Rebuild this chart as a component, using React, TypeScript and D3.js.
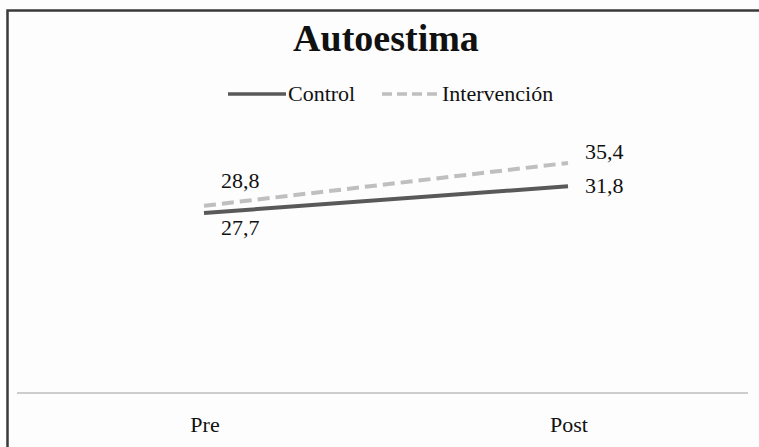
import React, { useEffect, useRef } from 'react';
import * as d3 from 'd3';

const categories = ['Pre', 'Post'];
const seriesNames = ['Control', 'Intervención'];
const controlValues = [27.7, 31.8];
const intervencionValues = [28.8, 35.4];
const valueLabels = [
  ['27,7', '31,8'],
  ['28,8', '35,4'],
];

const WIDTH = 759;
const HEIGHT = 447;

function App() {
  const svgRef = useRef<SVGSVGElement>(null);

  useEffect(() => {
    if (!svgRef.current) return;
    const svg = d3.select(svgRef.current);
    svg.selectAll('*').remove();

    const font = '"Liberation Serif", "Times New Roman", serif';
    const axisY = 393;

    // Frame
    svg.append('rect')
      .attr('width', WIDTH).attr('height', HEIGHT).attr('fill', '#fdfdfd');
    svg.append('rect')
      .attr('x', 7.5).attr('y', 10.5)
      .attr('width', WIDTH + 20).attr('height', HEIGHT + 20)
      .attr('fill', 'none')
      .attr('stroke', '#3a3a3a')
      .attr('stroke-width', 2.5);

    // Title
    svg.append('text')
      .attr('x', 386).attr('y', 51)
      .attr('text-anchor', 'middle')
      .style('font-family', font)
      .style('font-size', '38px')
      .style('font-weight', 'bold')
      .style('fill', '#111')
      .text('Autoestima');

    // Scales
    const xScale = d3.scalePoint<string>()
      .domain(categories)
      .range([22, 750])
      .padding(0.5);

    const yScale = d3.scaleLinear()
      .domain([0, 50])
      .range([axisY, 68]);

    const series = [
      { name: seriesNames[0], values: controlValues, color: '#595959', dash: null, labels: valueLabels[0] },
      { name: seriesNames[1], values: intervencionValues, color: '#bfbfbf', dash: '12,6', labels: valueLabels[1] },
    ];

    // Legend
    const legend = svg.append('g');
    const legendItems = [
      { x1: 228, x2: 286, textX: 288 },
      { x1: 382, x2: 440, textX: 442 },
    ];
    series.forEach((s, i) => {
      const it = legendItems[i];
      legend.append('line')
        .attr('x1', it.x1).attr('x2', it.x2)
        .attr('y1', 94).attr('y2', 94)
        .attr('stroke', s.color)
        .attr('stroke-width', 3.5)
        .attr('stroke-dasharray', s.dash ? '10,5' : null);
      legend.append('text')
        .attr('x', it.textX).attr('y', 101)
        .style('font-family', font)
        .style('font-size', '22px')
        .style('fill', '#111')
        .text(s.name);
    });

    // Category axis line
    svg.append('line')
      .attr('x1', 17).attr('x2', 748)
      .attr('y1', axisY).attr('y2', axisY)
      .attr('stroke', '#bdbdbd')
      .attr('stroke-width', 1.5);

    svg.selectAll('.cat')
      .data(categories)
      .enter().append('text')
      .attr('class', 'cat')
      .attr('x', d => (xScale(d) || 0) + 1)
      .attr('y', 432)
      .attr('text-anchor', 'middle')
      .style('font-family', font)
      .style('font-size', '22px')
      .style('fill', '#111')
      .text(d => d);

    // Lines
    const line = d3.line<number>()
      .x((_, i) => xScale(categories[i]) || 0)
      .y(d => yScale(d));

    // draw intervención first so control sits on top
    [...series].reverse().forEach(s => {
      svg.append('path')
        .datum(s.values)
        .attr('d', line)
        .attr('fill', 'none')
        .attr('stroke', s.color)
        .attr('stroke-width', 4)
        .attr('stroke-dasharray', s.dash);
    });

    // Data labels
    series.forEach((s, si) => {
      s.values.forEach((v, i) => {
        const px = (xScale(categories[i]) || 0) + 17;
        const py = yScale(v);
        let ty: number;
        if (i === 0) {
          ty = si === 0 ? py + 22 : py - 18;
        } else {
          ty = si === 1 ? py - 4 : py + 7;
        }
        svg.append('text')
          .attr('x', px).attr('y', ty)
          .style('font-family', font)
          .style('font-size', '22px')
          .style('fill', '#111')
          .text(s.labels[i]);
      });
    });
  }, []);

  return (
    <svg
      ref={svgRef}
      width={WIDTH}
      height={HEIGHT}
      style={{ position: 'absolute', left: 0, top: 0, display: 'block' }}
    />
  );
}

export default App;
